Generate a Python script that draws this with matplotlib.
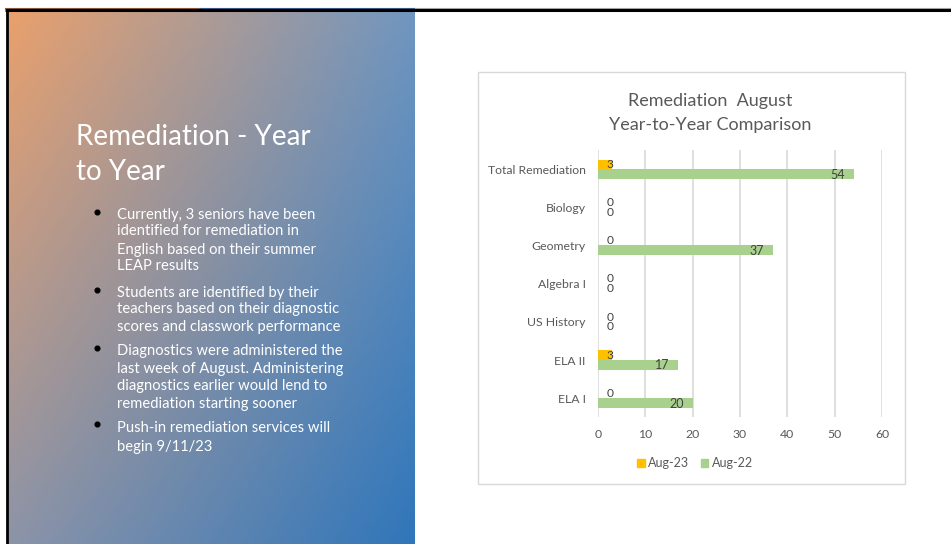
import numpy as np
import matplotlib
matplotlib.use("Agg")
import matplotlib.pyplot as plt
from matplotlib.patches import Rectangle, Patch

# ---------------- data ----------------
categories = ["Total Remediation", "Biology", "Geometry", "Algebra I",
              "US History", "ELA II", "ELA I"]
aug23 = [3, 0, 0, 0, 0, 3, 0]
aug22 = [54, 0, 37, 0, 0, 17, 20]
series_names = ["Aug-23", "Aug-22"]
series_colors = ["#FFC000", "#A9D18E"]
xticks = [0, 10, 20, 30, 40, 50, 60]
chart_title_lines = ["Remediation  August", "Year-to-Year Comparison"]
slide_title_lines = ["Remediation - Year", "to Year"]
bullets = [
    ["Currently, 3 seniors have been", "identified for remediation in",
     "English based on their summer", "LEAP results"],
    ["Students are identified by their", "teachers based on their diagnostic",
     "scores and classwork performance"],
    ["Diagnostics were administered the", "last week of August. Administering",
     "diagnostics earlier would lend to", "remediation starting sooner"],
    ["Push-in remediation services will", "begin 9/11/23"],
]

FONT = ["Lato", "DejaVu Sans"]
plt.rcParams["font.family"] = FONT

W, H = 951, 544
fig = plt.figure(figsize=(W / 100, H / 100), dpi=100)
fig.patch.set_facecolor("white")

# background / decoration axes in pixel coordinates
bg = fig.add_axes([0, 0, 1, 1])
bg.set_axis_off()

# gradient panel (bilinear between corner colours)
TL = np.array([234, 160, 108]) / 255
TR = np.array([112, 150, 192]) / 255
BL = np.array([140, 148, 168]) / 255
BR = np.array([48, 118, 186]) / 255
nx, ny = 200, 260
u = np.linspace(0, 1, nx)[None, :, None]
v = np.linspace(0, 1, ny)[:, None, None]
img = (1 - u) * (1 - v) * TL + u * (1 - v) * TR + (1 - u) * v * BL + u * v * BR
bg.imshow(np.clip(img, 0, 1), extent=(8, 415, H, 11), aspect="auto",
          interpolation="bilinear", zorder=0)
bg.set_xlim(0, W)
bg.set_ylim(H, 0)

# slide borders
bg.plot([5, 200], [7.8, 7.8], color="#8a5a3c", lw=0.8, zorder=2)
bg.plot([200, 415], [7.8, 7.8], color="#3c5a86", lw=0.8, zorder=2)
bg.plot([415, W], [7.8, 7.8], color="#a8a8a8", lw=0.8, zorder=2)
bg.plot([5, W], [10, 10], color="black", lw=2.2, zorder=3, solid_capstyle="butt")
bg.plot([6.8, 6.8], [9, H], color="black", lw=2.0, zorder=3, solid_capstyle="butt")

# chart frame
bg.add_patch(Rectangle((478, 71.5), 426.5, 412.5, fill=False,
                       ec="#D9D9D9", lw=1.0, zorder=1))

# slide title
for txt, yb in zip(slide_title_lines, [145, 180]):
    bg.text(76, yb, txt, color="white", fontsize=20, fontweight="normal",
            va="baseline", ha="left", zorder=4)

# bullets
line_baselines = [[219, 235, 254, 270], [297, 313, 331],
                  [355, 373, 390, 408], [432, 451]]
dot_y = [211.7, 290, 347.7, 424]
for lines, ybs, dy in zip(bullets, line_baselines, dot_y):
    bg.plot([96.7], [dy], marker="o", ms=3.4, color="black", zorder=4)
    for txt, yb in zip(lines, ybs):
        bg.text(117, yb, txt, color="white", fontsize=10.6, va="baseline",
                ha="left", zorder=4)

# chart title
for txt, yb in zip(chart_title_lines, [106, 130]):
    bg.text(710, yb, txt, color="#595959", fontsize=13, va="baseline",
            ha="center", zorder=4)

# ---------------- chart ----------------
x0, x1, ytop, ybot = 597.7, 882.3, 150, 417.3
ax = fig.add_axes([x0 / W, 1 - ybot / H, (x1 - x0) / W, (ybot - ytop) / H])
ax.set_facecolor("none")
y = np.arange(len(categories))
bh = 0.25
ax.barh(y - bh / 2, aug23, bh, color=series_colors[0], zorder=3)
ax.barh(y + bh / 2, aug22, bh, color=series_colors[1], zorder=3)
ax.set_xlim(xticks[0], xticks[-1])
ax.set_ylim(len(categories) - 0.5, -0.5)
ax.set_xticks(xticks)
ax.set_yticks(y)
ax.set_yticklabels(categories)
for s in ax.spines.values():
    s.set_visible(False)
ax.xaxis.grid(True, color="#D9D9D9", lw=1.2, zorder=0)
ax.set_axisbelow(True)
ax.tick_params(axis="both", length=0, colors="#595959", labelsize=8.8)
ax.tick_params(axis="y", pad=8.6)
ax.tick_params(axis="x", pad=8.3)

# data labels
for vals, off in ((aug23, -bh / 2), (aug22, bh / 2)):
    for yi, val in zip(y, vals):
        if val >= 10:
            ax.annotate(str(val), (val, yi + off), xytext=(-6.3, -0.5),
                        textcoords="offset points", ha="right", va="center",
                        color="#404040", fontsize=9, zorder=5)
        else:
            ax.annotate(str(val), (0, yi + off), xytext=(8.9, 0),
                        textcoords="offset points", ha="center", va="center",
                        color="#404040", fontsize=8.6, zorder=5)

handles = [Patch(color=c) for c in series_colors]
ax.legend(handles, series_names, loc="center",
          bbox_to_anchor=(695 / W, 1 - 463.3 / H), bbox_transform=fig.transFigure,
          ncol=2, frameon=False, handlelength=0.6, handleheight=0.6,
          handletextpad=0.3, columnspacing=0.9, fontsize=9, labelcolor="#595959")

fig.savefig("out.png", dpi=100)
